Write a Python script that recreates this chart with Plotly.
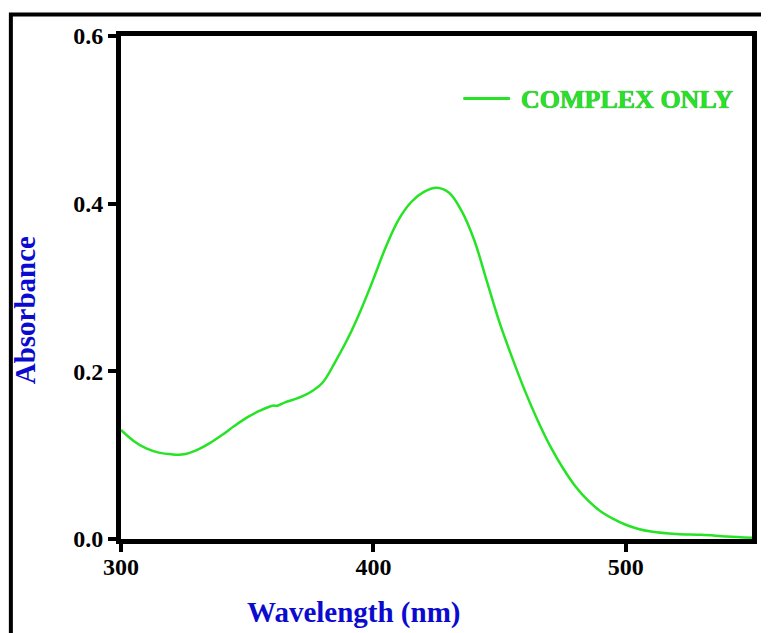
import plotly.graph_objects as go

wavelength = [300, 305, 310, 315, 320, 325, 330, 335, 340, 345, 350, 355, 360, 362,
              365, 370, 375, 380, 385, 390, 395, 400, 405, 410, 415, 420, 425, 430,
              435, 440, 445, 450, 455, 460, 465, 470, 475, 480, 485, 490, 495, 500,
              505, 510, 520, 530, 540, 550]
absorbance = [0.130, 0.117, 0.108, 0.103, 0.101, 0.101, 0.106, 0.114, 0.124, 0.135,
              0.145, 0.153, 0.159, 0.159, 0.163, 0.168, 0.175, 0.187, 0.212, 0.240,
              0.273, 0.310, 0.349, 0.381, 0.402, 0.414, 0.419, 0.413, 0.391, 0.356,
              0.307, 0.258, 0.216, 0.177, 0.142, 0.111, 0.085, 0.063, 0.046, 0.033,
              0.024, 0.017, 0.012, 0.009, 0.006, 0.005, 0.003, 0.0015]
series_name = "COMPLEX ONLY"
x_ticks = [300, 400, 500]
y_ticks = [0.0, 0.2, 0.4, 0.6]

GREEN = "#26e326"
BLUE = "#0b0bcf"
FONT = "Liberation Serif"

# page offset of the plotly div (default body margin)
OFF = 8
W, H = 769 - OFF, 633 - OFF
L, T = 113, 28
R = W - (757 - OFF)
B = H - (539 - OFF)
pw, ph = W - L - R, H - T - B


def px_x(p):
    return (p - OFF - L) / pw


def px_y(p):
    return (H - B - (p - OFF)) / ph


fig = go.Figure()
fig.add_trace(go.Scatter(
    x=wavelength, y=absorbance, mode="lines", name=series_name,
    line=dict(color=GREEN, width=2.5, shape="spline", smoothing=1.0),
    showlegend=False,
))

axis_common = dict(
    showline=True, linecolor="black", linewidth=5, mirror=True,
    ticks="outside", ticklen=8, tickwidth=4, tickcolor="black",
    showgrid=False, zeroline=False,
    tickfont=dict(family=FONT, size=24, color="black", weight="bold"),
)

fig.update_layout(
    width=W, height=H,
    margin=dict(l=L, r=R, t=T, b=B),
    paper_bgcolor="white", plot_bgcolor="white",
    xaxis=dict(range=[300, 550], tickvals=x_ticks, ticklabelstandoff=-6,
               ticktext=[str(v) for v in x_ticks], **axis_common),
    yaxis=dict(range=[0, 0.6], tickvals=y_ticks,
               ticktext=[f"{v:.1f}" for v in y_ticks], **axis_common),
    showlegend=False,
)

# legend (sample line + label)
fig.add_shape(type="line", xref="paper", yref="paper",
              x0=px_x(466), x1=px_x(513), y0=px_y(98.5), y1=px_y(98.5),
              line=dict(color=GREEN, width=3))
fig.add_annotation(text=series_name, xref="paper", yref="paper",
                   x=px_x(522), y=px_y(99), xanchor="left", yanchor="middle",
                   showarrow=False,
                   font=dict(family=FONT, size=26, color=GREEN, weight="bold",
                             shadow="0 0 1px #0a6a0a"))

fig.add_annotation(text="Wavelength (nm)", xref="paper", yref="paper",
                   x=px_x(355.5), y=px_y(612), xanchor="center", yanchor="middle",
                   showarrow=False,
                   font=dict(family=FONT, size=29, color=BLUE, weight="bold"))
fig.add_annotation(text="Absorbance", xref="paper", yref="paper",
                   x=px_x(24.5), y=px_y(310), xanchor="center", yanchor="middle",
                   showarrow=False, textangle=-90,
                   font=dict(family=FONT, size=29, color=BLUE, weight="bold"))

# outer frame (cropped: only top and left edges visible)
fig.add_shape(type="path", xref="paper", yref="paper",
              path=f"M {px_x(10)} {px_y(660)} L {px_x(10)} {px_y(14.5)} L {px_x(800)} {px_y(14.5)}",
              line=dict(color="black", width=4), layer="above")

fig.write_html("out.html")
